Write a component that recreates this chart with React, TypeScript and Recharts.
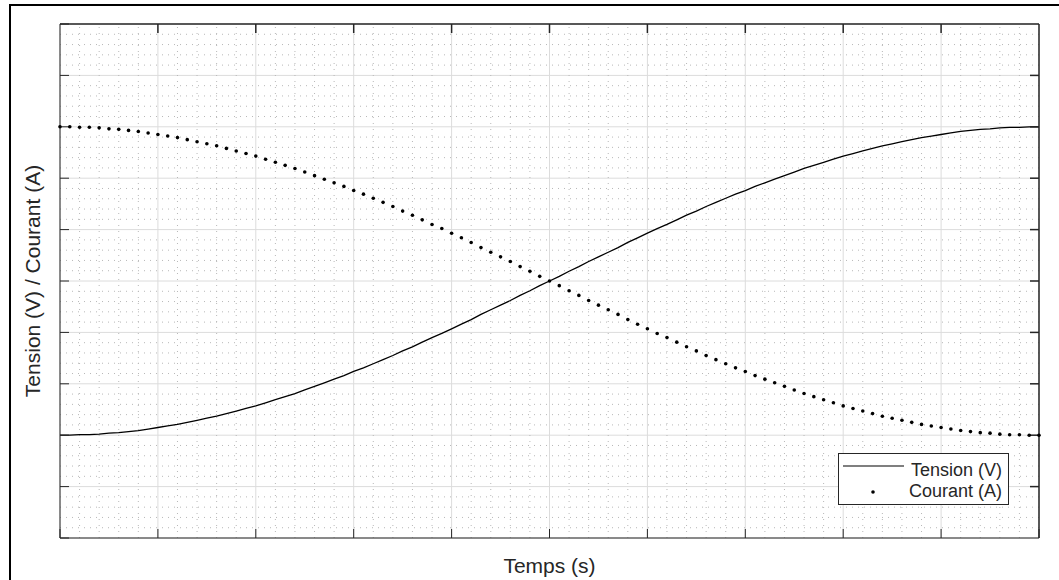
import {
  LineChart,
  Line,
  XAxis,
  YAxis,
  CartesianGrid,
  ReferenceLine,
  Legend,
} from 'recharts';

// sample index (time axis, no tick labels shown)
const time = [
  0, 1, 2, 3, 4, 5, 6, 7, 8, 9, 10, 11, 12, 13, 14, 15, 16, 17, 18, 19, 20,
  21, 22, 23, 24, 25, 26, 27, 28, 29, 30, 31, 32, 33, 34, 35, 36, 37, 38, 39, 40,
  41, 42, 43, 44, 45, 46, 47, 48, 49, 50, 51, 52, 53, 54, 55, 56, 57, 58, 59, 60,
  61, 62, 63, 64, 65, 66, 67, 68, 69, 70, 71, 72, 73, 74, 75, 76, 77, 78, 79, 80,
  81, 82, 83, 84, 85, 86, 87, 88, 89, 90, 91, 92, 93, 94, 95, 96, 97, 98, 99, 100,
];

const courant = [
  3.0, 3.0, 2.99, 2.99, 2.98, 2.96, 2.95, 2.93, 2.91, 2.88, 2.85, 2.82, 2.79, 2.75,
  2.71, 2.67, 2.63, 2.58, 2.53, 2.48, 2.43, 2.37, 2.31, 2.25, 2.19, 2.12, 2.05, 1.98,
  1.91, 1.84, 1.76, 1.69, 1.61, 1.53, 1.45, 1.36, 1.28, 1.19, 1.1, 1.02, 0.93, 0.84,
  0.75, 0.65, 0.56, 0.47, 0.38, 0.28, 0.19, 0.09, 0.0, -0.09, -0.19, -0.28, -0.38,
  -0.47, -0.56, -0.65, -0.75, -0.84, -0.93, -1.02, -1.1, -1.19, -1.28, -1.36, -1.45,
  -1.53, -1.61, -1.69, -1.76, -1.84, -1.91, -1.98, -2.05, -2.12, -2.19, -2.25, -2.31,
  -2.37, -2.43, -2.48, -2.53, -2.58, -2.63, -2.67, -2.71, -2.75, -2.79, -2.82, -2.85,
  -2.88, -2.91, -2.93, -2.95, -2.96, -2.98, -2.99, -2.99, -3.0, -3.0,
];

const tension = [
  -3.0, -3.0, -2.99, -2.99, -2.98, -2.96, -2.95, -2.93, -2.91, -2.88, -2.85, -2.82,
  -2.79, -2.75, -2.71, -2.67, -2.63, -2.58, -2.53, -2.48, -2.43, -2.37, -2.31, -2.25,
  -2.19, -2.12, -2.05, -1.98, -1.91, -1.84, -1.76, -1.69, -1.61, -1.53, -1.45, -1.36,
  -1.28, -1.19, -1.1, -1.02, -0.93, -0.84, -0.75, -0.65, -0.56, -0.47, -0.38, -0.28,
  -0.19, -0.09, 0.0, 0.09, 0.19, 0.28, 0.38, 0.47, 0.56, 0.65, 0.75, 0.84, 0.93, 1.02,
  1.1, 1.19, 1.28, 1.36, 1.45, 1.53, 1.61, 1.69, 1.76, 1.84, 1.91, 1.98, 2.05, 2.12,
  2.19, 2.25, 2.31, 2.37, 2.43, 2.48, 2.53, 2.58, 2.63, 2.67, 2.71, 2.75, 2.79, 2.82,
  2.85, 2.88, 2.91, 2.93, 2.95, 2.96, 2.98, 2.99, 2.99, 3.0, 3.0,
];

const xTicks = [0, 10, 20, 30, 40, 50, 60, 70, 80, 90, 100];
const yTicks = [-5, -4, -3, -2, -1, 0, 1, 2, 3, 4, 5];
const X_MAX = 100;
const Y_MAX = 5;
// inward tick length expressed in data units (about 9px)
const X_TICK_LEN = 0.92;
const Y_TICK_LEN = 0.175;

// minor grid: 5 subdivisions between major ticks
const minorOf = (ticks: number[]) => {
  const out: number[] = [];
  for (let i = 0; i < ticks.length - 1; i++) {
    const step = (ticks[i + 1] - ticks[i]) / 5;
    for (let k = 1; k < 5; k++) out.push(+(ticks[i] + k * step).toFixed(3));
  }
  return out;
};
const xMinor = minorOf(xTicks);
const yMinor = minorOf(yTicks);

const data = time.map((t, i) => ({ t, tension: tension[i], courant: courant[i] }));

const FONT = 'Liberation Sans, Arial, Helvetica, sans-serif';
const AXIS = '#262626';

// ticks without labels (MATLAB style inward ticks only)
const NoLabel = () => <g />;

function LegendBox() {
  return (
    <svg width={171} height={52} style={{ display: 'block' }}>
      <rect x={0.5} y={0.5} width={170} height={51} fill="#fff" stroke={AXIS} />
      <line x1={5} y1={13} x2={66} y2={13} stroke="#000" strokeWidth={1.2} />
      <text x={164} y={23} textAnchor="end" fontSize={18} fontFamily={FONT} fill={AXIS}>
        Tension (V)
      </text>
      <circle cx={35} cy={39} r={1.8} fill="#000" />
      <text x={164} y={44} textAnchor="end" fontSize={18} fontFamily={FONT} fill={AXIS}>
        Courant (A)
      </text>
    </svg>
  );
}

export default function App() {
  return (
    <div
      style={{
        position: 'absolute',
        left: 0,
        top: 0,
        width: 1059,
        height: 580,
        overflow: 'hidden',
        background: '#fff',
      }}
    >
      <div
        style={{
          position: 'absolute',
          left: 9,
          top: 4,
          width: 1200,
          height: 800,
          border: '2px solid #000',
        }}
      />
      <div style={{ position: 'absolute', left: 0, top: 0 }}>
        <LineChart
          width={1059}
          height={580}
          data={data}
          margin={{ top: 24, right: 20, bottom: 42, left: 60 }}
        >
          <CartesianGrid stroke="#dcdcdc" strokeWidth={1} horizontal vertical />
          {xMinor.map((v) => (
            <ReferenceLine key={'vx' + v} x={v} stroke="#b8b8b8" strokeDasharray="1 5" />
          ))}
          {yMinor.map((v) => (
            <ReferenceLine key={'hy' + v} y={v} stroke="#b8b8b8" strokeDasharray="1 5" />
          ))}
          <XAxis
            dataKey="t"
            type="number"
            domain={[0, X_MAX]}
            ticks={xTicks}
            tick={NoLabel}
            tickSize={9}
            mirror
            height={1}
            axisLine={{ stroke: AXIS }}
            tickLine={{ stroke: AXIS }}
            label={{
              content: (props: any) => {
                const vb = props.viewBox || { x: 61, y: 537, width: 978 };
                return (
                  <text
                    x={vb.x + vb.width / 2}
                    y={vb.y + 36}
                    textAnchor="middle"
                    fontSize={21}
                    fontFamily={FONT}
                    fill={AXIS}
                  >
                    Temps (s)
                  </text>
                );
              },
            }}
          />
          <YAxis
            type="number"
            domain={[-Y_MAX, Y_MAX]}
            ticks={yTicks}
            tick={NoLabel}
            tickSize={9}
            mirror
            width={1}
            axisLine={{ stroke: AXIS }}
            tickLine={{ stroke: AXIS }}
            label={{
              content: (props: any) => {
                const vb = props.viewBox || { x: 60, y: 24, width: 1, height: 513 };
                const x = vb.x + vb.width - 21;
                const y = vb.y + vb.height / 2;
                return (
                  <text
                    x={x}
                    y={y}
                    textAnchor="middle"
                    transform={`rotate(-90, ${x}, ${y})`}
                    fontSize={21}
                    fontFamily={FONT}
                    fill={AXIS}
                  >
                    Tension (V) / Courant (A)
                  </text>
                );
              },
            }}
          />
          <Line
            type="linear"
            dataKey="tension"
            stroke="#000"
            strokeWidth={1.3}
            dot={false}
            isAnimationActive={false}
          />
          <Line
            type="linear"
            dataKey="courant"
            stroke="none"
            dot={{ r: 1.8, fill: '#000', stroke: 'none' }}
            isAnimationActive={false}
          />
          {/* top and right sides of the axes box, with inward ticks (above the grid) */}
          <ReferenceLine y={Y_MAX} stroke={AXIS} strokeWidth={1.5} zIndex={600} />
          <ReferenceLine x={X_MAX} stroke={AXIS} strokeWidth={1.5} zIndex={600} />
          {xTicks.slice(1, -1).map((v) => (
            <ReferenceLine
              key={'tt' + v}
              segment={[
                { x: v, y: Y_MAX },
                { x: v, y: Y_MAX - Y_TICK_LEN },
              ]}
              stroke={AXIS}
              strokeWidth={1.5}
              zIndex={600}
            />
          ))}
          {yTicks.slice(1, -1).map((v) => (
            <ReferenceLine
              key={'rt' + v}
              segment={[
                { x: X_MAX, y: v },
                { x: X_MAX - X_TICK_LEN, y: v },
              ]}
              stroke={AXIS}
              strokeWidth={1.5}
              zIndex={600}
            />
          ))}
          <Legend
            layout="horizontal"
            align="center"
            verticalAlign="middle"
            content={() => <LegendBox />}
            wrapperStyle={{ left: 838, top: 453, width: 171, height: 52 }}
          />
        </LineChart>
      </div>
    </div>
  );
}
